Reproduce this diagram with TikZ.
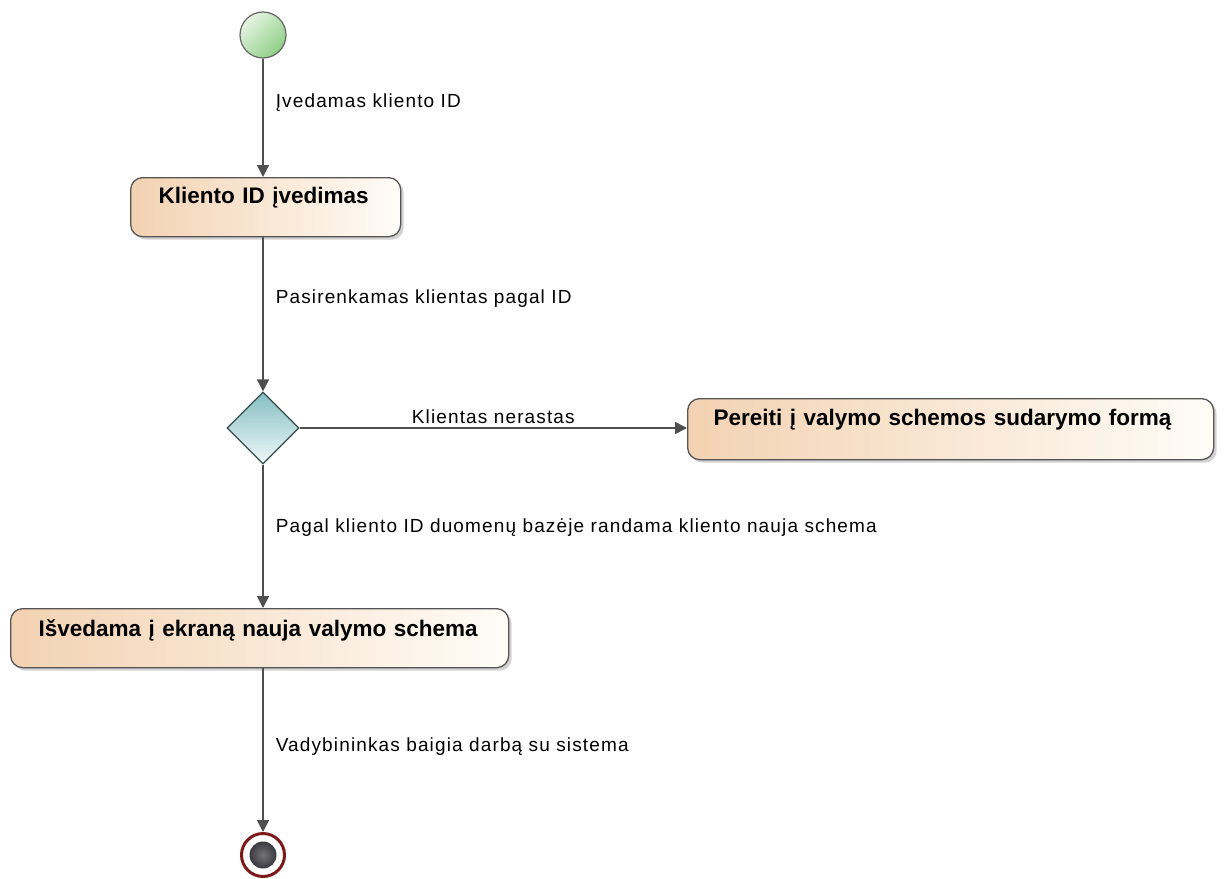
\documentclass[tikz,border=0pt]{standalone}
\usepackage{fontspec}
\setmainfont{Liberation Sans}
\usetikzlibrary{arrows.meta,shapes.geometric,shadows}

\definecolor{lineclr}{HTML}{4F4F4F}
\definecolor{boxborder}{HTML}{555555}
\definecolor{peach}{HTML}{F3D2B2}
\definecolor{cream}{HTML}{FFFCF7}
\definecolor{greenA}{HTML}{E6F4E2}
\definecolor{greenB}{HTML}{8FCF86}
\definecolor{tealA}{HTML}{86BEC3}
\definecolor{tealB}{HTML}{EEF8F8}
\definecolor{endred}{HTML}{7E1A1A}
\definecolor{endcore}{HTML}{3A3A3E}

\tikzset{
  action/.style={draw=boxborder, line width=1.3bp, rounded corners=12bp,
    left color=peach, right color=cream,
    drop shadow={shadow xshift=3bp, shadow yshift=-3bp, opacity=0.35},
    anchor=north west, align=left, inner ysep=8bp,
    font=\fontsize{22.5bp}{27bp}\selectfont\bfseries},
  flow/.style={draw=lineclr, line width=1.6bp,
    -{Triangle[width=12bp,length=12bp]}},
  elabel/.style={font=\fontsize{19bp}{23bp}\selectfont\addfontfeatures{LetterSpace=6},
    text=black, inner sep=1bp},
  initial/.style={circle, draw=gray!80!black, line width=1.2bp, minimum size=46bp,
    inner sep=0, left color=greenA, right color=greenB, shading angle=45},
  decision/.style={diamond, draw=gray!70!teal!60!black, line width=1.2bp,
    minimum width=72bp, minimum height=72bp, inner sep=0,
    top color=tealA, bottom color=tealB},
  final/.style={circle, draw=endred, line width=3bp, fill=white, minimum size=43bp, inner sep=0},
  finalcore/.style={circle, minimum size=27bp, inner sep=0,
    inner color=endcore!70!white, outer color=endcore}
}

\begin{document}
\begin{tikzpicture}[x=1bp, y=-1bp]
  \fill[white] (0,0) rectangle (1227,879);
  \useasboundingbox (0,0) rectangle (1227,879);

  % nodes
  \node[initial] (start) at (263,35) {};
  \node[action, text width=214bp, inner xsep=28bp, text height=17.5bp, text depth=25.5bp]
    (enter) at (130,177) {Kliento ID įvedimas};
  \node[decision] (dec) at (263,428) {};
  \node[action, text width=474bp, inner xsep=26bp, text height=19bp, text depth=26bp]
    (form) at (687,398) {Pereiti į valymo schemos sudarymo formą};
  \node[action, text width=442bp, inner xsep=28bp, text height=19.5bp, text depth=23.5bp]
    (show) at (10,608) {Išvedama į ekraną nauja valymo schema};
  \node[final] (end) at (263,855) {};
  \node[finalcore] (endcore) at (end.center) {};

  % connectors
  \draw[flow] (start) -- node[elabel, pos=0.37, anchor=west, xshift=11bp] (l1)
    {Įvedamas kliento ID} (enter.north -| start);
  \draw[flow] (enter.south -| start) -- node[elabel, pos=0.40, anchor=west, xshift=11bp] (l2)
    {Pasirenkamas klientas pagal ID} (dec);
  \draw[flow] (dec) -- node[elabel, pos=0.5, anchor=south, yshift=3bp] (l3)
    {Klientas nerastas} (form.west |- dec);
  \draw[flow] (dec) -- node[elabel, pos=0.44, anchor=west, xshift=11bp] (l4)
    {Pagal kliento ID duomenų bazėje randama kliento nauja schema} (show.north -| dec);
  \draw[flow] (show.south -| dec) -- node[elabel, pos=0.48, anchor=west, xshift=11bp] (l5)
    {Vadybininkas baigia darbą su sistema} (end);
\end{tikzpicture}
\end{document}
